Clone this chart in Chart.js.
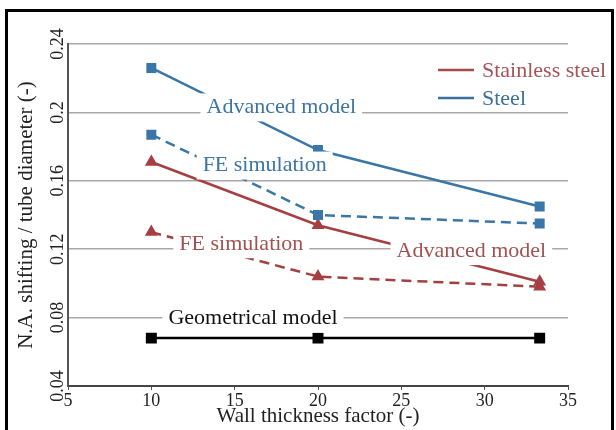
<!DOCTYPE html>
<html>
<head>
<meta charset="utf-8">
<script src="https://cdn.jsdelivr.net/npm/chart.js@4/dist/chart.umd.min.js"></script>
<style>
  html, body { margin: 0; padding: 0; background: #fff; }
  #wrap { position: relative; width: 616px; height: 430px; overflow: hidden; }
  #frame { position: absolute; left: 5px; top: 9px; width: 603px; height: 440px; border: 3px solid #000; }
  #chart { position: absolute; left: 0; top: 0; }
</style>
</head>
<body>
<div id="wrap">
  <div id="frame"></div>
  <canvas id="chart" width="616" height="430"></canvas>
</div>
<script>
const thickness = [10, 20, 33.3];
const steelAdvanced = [0.226, 0.178, 0.145];
const steelFE = [0.187, 0.140, 0.135];
const stainlessAdvanced = [0.171, 0.134, 0.101];
const stainlessFE = [0.130, 0.104, 0.098];
const geometrical = [0.068, 0.068, 0.068];
const yTickLabels = ["0.04", "0.08", "0.12", "0.16", "0.2", "0.24"];

const blue = "#3a76a8";
const red = "#a53f42";
const serif = "'Liberation Serif', 'DejaVu Serif', serif";

const pts = (vals) => thickness.map((x, i) => ({ x, y: vals[i] }));

// text boxes sitting on the plot (white fill hides grid + lines behind)
const notes = [
    { text: "Advanced model", x: 17.8, y: 0.2035, color: "#3c74a4" },
    { text: "FE simulation", x: 16.8, y: 0.1695, color: "#3c74a4" },
    { text: "FE simulation", x: 15.4, y: 0.1235, color: "#a35252" },
    { text: "Advanced model", x: 29.2, y: 0.1195, color: "#a35252" },
    { text: "Geometrical model", x: 16.1, y: 0.08, color: "#111" }
];

const notesPlugin = {
    id: "notes",
    afterDatasetsDraw(chart) {
        const ctx = chart.ctx;
        const xs = chart.scales.x, ys = chart.scales.y;
        ctx.save();
        ctx.font = "22px " + serif;
        ctx.textAlign = "center";
        ctx.textBaseline = "middle";
        notes.forEach((n) => {
            const px = xs.getPixelForValue(n.x);
            const py = ys.getPixelForValue(n.y);
            const w = ctx.measureText(n.text).width;
            ctx.fillStyle = "#fff";
            ctx.fillRect(px - w / 2 - 6, py - 13, w + 12, 28);
            ctx.fillStyle = n.color;
            ctx.fillText(n.text, px, py + 1);
        });
        ctx.restore();
    },
    afterDraw(chart) {
        const ctx = chart.ctx;
        ctx.save();
        ctx.font = "22px " + serif;
        ctx.textBaseline = "middle";
        const rows = [["Stainless steel", "#a54a4d", "#a55458", 70], ["Steel", "#3a70a0", "#3c70a0", 98]];
        rows.forEach(([label, lc, tc, y]) => {
            ctx.strokeStyle = lc;
            ctx.lineWidth = 2.5;
            ctx.beginPath();
            ctx.moveTo(438, y);
            ctx.lineTo(474, y);
            ctx.stroke();
            ctx.fillStyle = tc;
            ctx.fillText(label, 482, y + 1);
        });
        ctx.restore();
    }
};

new Chart(document.getElementById("chart"), {
    type: "line",
    data: {
        datasets: [
            { data: pts(steelAdvanced), borderColor: blue, backgroundColor: blue, borderWidth: 2.5, pointStyle: "rect", pointRadius: 5.3 },
            { data: pts(steelFE), borderColor: blue, backgroundColor: blue, borderWidth: 2.5, borderDash: [10, 6], pointStyle: "rect", pointRadius: 5.3 },
            { data: pts(stainlessAdvanced), borderColor: red, backgroundColor: red, borderWidth: 2.5, pointStyle: "triangle", pointRadius: 5 },
            { data: pts(stainlessFE), borderColor: red, backgroundColor: red, borderWidth: 2.5, borderDash: [10, 6], pointStyle: "triangle", pointRadius: 5 },
            { data: pts(geometrical), borderColor: "#000", backgroundColor: "#000", borderWidth: 2.5, pointStyle: "rect", pointRadius: 6 }
        ]
    },
    options: {
        responsive: false,
        animation: false,
        events: [],
        layout: { padding: { left: 0, right: 48, top: 44, bottom: 0 } },
        plugins: { legend: { display: false }, tooltip: { enabled: false } },
        scales: {
            x: {
                type: "linear",
                min: 5,
                max: 35,
                afterFit: (s) => { s.height = 44; },
                ticks: { stepSize: 5, color: "#222", padding: 0, font: { family: serif, size: 18 } },
                grid: { drawOnChartArea: false, drawTicks: true, tickLength: 4, color: "#555" },
                border: { color: "#444", width: 2 },
                title: { display: true, text: "Wall thickness factor (-)", color: "#222", padding: { top: 0, bottom: 1 }, font: { family: serif, size: 21 } }
            },
            y: {
                min: 0.04,
                max: 0.24,
                afterFit: (s) => { s.width = 68; },
                ticks: {
                    stepSize: 0.04,
                    minRotation: 90,
                    maxRotation: 90,
                    crossAlign: "center",
                    padding: -6,
                    color: "#222",
                    font: { family: serif, size: 18 },
                    callback: (v, i) => yTickLabels[i]
                },
                grid: { color: "#a8a8a8", lineWidth: 1.5, drawTicks: false },
                border: { color: "#555", width: 2 },
                title: { display: true, text: "N.A. shifting / tube diameter (-)", color: "#222", padding: { top: 14, bottom: 0 }, font: { family: serif, size: 21 } }
            }
        }
    },
    plugins: [notesPlugin]
});
</script>
</body>
</html>
